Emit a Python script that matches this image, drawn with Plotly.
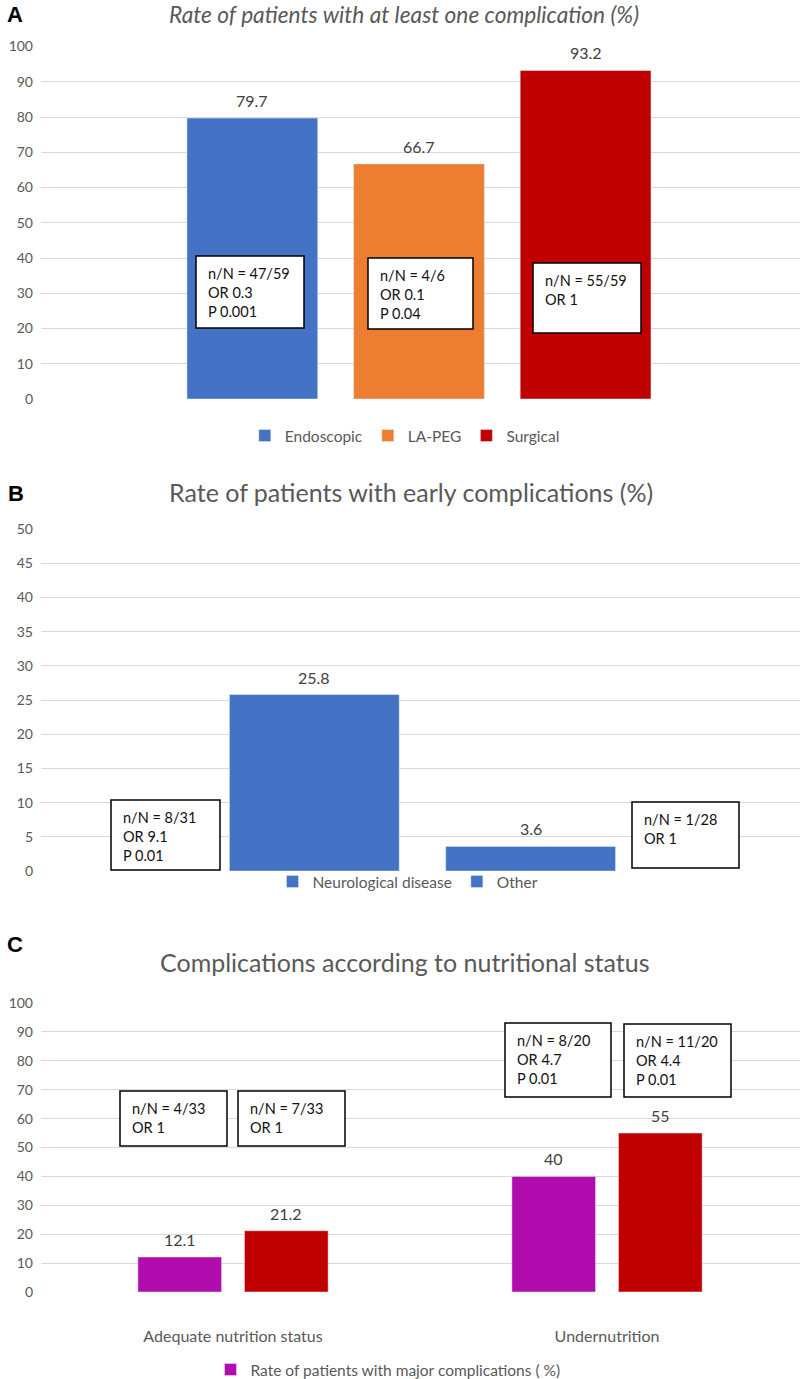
import plotly.graph_objects as go

# ---------------- data ----------------
# Panel A
groups_A = ["Endoscopic", "LA-PEG", "Surgical"]
values_A = [79.7, 66.7, 93.2]
colors_A = ["#4472C4", "#ED7D31", "#C00000"]
boxes_A = ["n/N = 47/59<br>OR 0.3<br>P 0.001",
           "n/N = 4/6<br>OR 0.1<br>P 0.04",
           "n/N = 55/59<br>OR 1"]

# Panel B
groups_B = ["Neurological disease", "Other"]
values_B = [25.8, 3.6]
colors_B = ["#4472C4", "#4472C4"]
boxes_B = ["n/N = 8/31<br>OR 9.1<br>P 0.01",
           "n/N = 1/28<br>OR 1"]

# Panel C
categories_C = ["Adequate nutrition status", "Undernutrition"]
series_C = ["Rate of patients with major complications ( %)",
            "Rate of patients with complications (%)"]
major_C = [12.1, 40]
any_C = [21.2, 55]
colors_C = ["#B10DAE", "#C00000"]
boxes_C = ["n/N = 4/33<br>OR 1", "n/N = 7/33<br>OR 1",
           "n/N = 8/20<br>OR 4.7<br>P 0.01", "n/N = 11/20<br>OR 4.4<br>P 0.01"]

# ---------------- layout helpers ----------------
W, H = 800, 1379
def fx(px):
    return px / W
def fy(py):
    return 1 - py / H

FONT = "Lato, 'Open Sans', Arial, sans-serif"
GREY = "#595959"
GRID = "#D9D9D9"
BARGAP = 0.43
GROUPGAP = 0.215

fig = go.Figure()

# Panel A bars
for name, v, c in zip(groups_A, values_A, colors_A):
    fig.add_trace(go.Bar(x=["A"], y=[v], name=name, marker_color=c,
                         xaxis="x", yaxis="y", legend="legend"))
# Panel B bars
for name, v, c in zip(groups_B, values_B, colors_B):
    fig.add_trace(go.Bar(x=["B"], y=[v], name=name, marker_color=c,
                         xaxis="x2", yaxis="y2", legend="legend2"))
# Panel C bars
for name, vals, c, sl in zip(series_C, [major_C, any_C], colors_C, [True, False]):
    fig.add_trace(go.Bar(x=categories_C, y=vals, name=name, marker_color=c,
                         xaxis="x3", yaxis="y3", legend="legend3", showlegend=sl))

annotations = []
shapes = []

def value_labels(xref, yref, series_vals):
    n = len(series_vals)
    slot = (1 - BARGAP) / n
    for i, vals in enumerate(series_vals):
        off = (i - (n - 1) / 2) * slot
        for ci, v in enumerate(vals):
            annotations.append(dict(
                x=ci + off, y=v, xref=xref, yref=yref, text=f"{v:g}",
                showarrow=False, yanchor="bottom", yshift=6,
                font=dict(family=FONT, size=16, color="#404040")))

value_labels("x", "y", [[v] for v in values_A])
value_labels("x2", "y2", [[v] for v in values_B])
value_labels("x3", "y3", [major_C, any_C])

def box(text, l, t, r, b):
    shapes.append(dict(type="rect", xref="paper", yref="paper",
                       x0=fx(l), x1=fx(r), y0=fy(b), y1=fy(t),
                       line=dict(color="#000000", width=1.5),
                       fillcolor="white", layer="above"))
    annotations.append(dict(x=fx(l + 10), y=fy(t + 7), xref="paper", yref="paper",
                            xanchor="left", yanchor="top", align="left",
                            text=text, showarrow=False,
                            font=dict(family=FONT, size=14.5, color="#111111")))

box_pos_A = [(196, 256, 304, 328), (368, 258, 473, 329), (533, 263, 641, 333)]
box_pos_B = [(111, 800, 220, 870), (632, 802, 739, 868)]
box_pos_C = [(120, 1091, 227, 1146), (238, 1091, 345, 1146),
             (505, 1023, 611, 1097), (624, 1024, 731, 1097)]
for t, p in zip(boxes_A, box_pos_A):
    box(t, *p)
for t, p in zip(boxes_B, box_pos_B):
    box(t, *p)
for t, p in zip(boxes_C, box_pos_C):
    box(t, *p)

# titles and panel letters
titles = [("<i>Rate of patients with at least one complication (%)</i>", 404, 14, 22.7),
          ("Rate of patients with early complications (%)", 411, 492, 25),
          ("Complications according to nutritional status", 405, 962, 25)]
for t, x, y, s in titles:
    annotations.append(dict(x=fx(x), y=fy(y), xref="paper", yref="paper",
                            xanchor="center", yanchor="middle", text=t, showarrow=False,
                            font=dict(family=FONT, size=s, color=GREY)))
for t, x, y in [("A", 15, 15), ("B", 16, 493), ("C", 15, 945)]:
    annotations.append(dict(x=fx(x), y=fy(y), xref="paper", yref="paper",
                            xanchor="center", yanchor="middle", text=f"<b>{t}</b>",
                            showarrow=False,
                            font=dict(family="Liberation Sans, Arial", size=22, color="#000")))

xdom = [fx(41), 1.0]
def xax(rng, show=False):
    return dict(domain=xdom, type="category", range=rng, showgrid=False, zeroline=False,
                showline=False, showticklabels=show, ticks="",
                tickfont=dict(family=FONT, size=16, color=GREY), fixedrange=True)
def yax(dom, top, dt, anchor):
    return dict(domain=dom, range=[0, top], dtick=dt, showgrid=True, gridcolor=GRID,
                gridwidth=1, zeroline=False, showline=False, ticks="", anchor=anchor,
                tickfont=dict(family=FONT, size=14, color=GREY), ticklabelstandoff=7,
                fixedrange=True)

def leg(x, y):
    return dict(orientation="h", x=x, xanchor="center", y=y, yanchor="middle",
                font=dict(family=FONT, size=15.5, color=GREY), bgcolor="rgba(0,0,0,0)",
                itemwidth=30, tracegroupgap=0)

fig.update_layout(
    width=W, height=H, margin=dict(l=0, r=0, t=0, b=0, autoexpand=False),
    paper_bgcolor="white", plot_bgcolor="white",
    barmode="group", bargap=BARGAP, bargroupgap=GROUPGAP,
    xaxis=xax([-0.431, 0.4345]) | dict(anchor="y"),
    yaxis=yax([fy(399), fy(46.5)], 100, 10, "x"),
    xaxis2=xax([-0.5026, 0.4974]) | dict(anchor="y2"),
    yaxis2=yax([fy(871), fy(529)], 50, 5, "x2"),
    xaxis3=xax([-0.5134, 1.516], True) | dict(anchor="y3", ticklabelstandoff=33),
    yaxis3=yax([fy(1292), fy(1003)], 100, 10, "x3"),
    legend=leg(0.506, fy(436)), legend2=leg(0.51, fy(882)), legend3=leg(0.485, fy(1370)),
    annotations=annotations, shapes=shapes,
    showlegend=True, hovermode=False,
)

fig.write_html("out.html", config={"displayModeBar": False, "staticPlot": True},
               post_script="document.body.style.margin='0';document.body.style.overflow='hidden';")
